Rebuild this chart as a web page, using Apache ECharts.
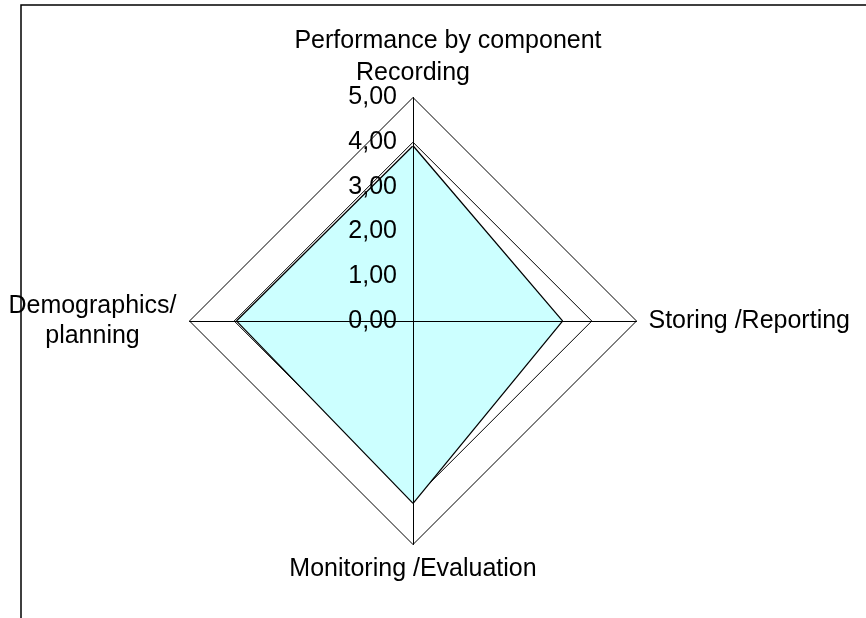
<!DOCTYPE html>
<html>
<head>
<meta charset="utf-8">
<script src="https://cdn.jsdelivr.net/npm/echarts@6/dist/echarts.min.js"></script>
<style>
  html, body { margin: 0; padding: 0; background: #fff; }
  #chart { width: 866px; height: 618px; }
</style>
</head>
<body>
<div id="chart"></div>
<script>
const titleText = 'Performance by component';
// listed in the order the radar draws them (counter-clockwise from the top)
const categories = ['Recording', 'Demographics/\nplanning', 'Monitoring /Evaluation', 'Storing /Reporting'];
const scores = [3.9, 3.93, 4.06, 3.33];
const axisMax = 5;

const font = "'Liberation Sans', Arial, sans-serif";
const fs = 25;

const chart = echarts.init(document.getElementById('chart'));

const baseRadar = {
  center: [413, 321],
  radius: 223.5,
  shape: 'polygon',
  startAngle: 90,
  splitNumber: 5,
  nameGap: 12
};

function indicators(withLabels) {
  return categories.map((name, i) => {
    const ind = { name: name, min: 0, max: axisMax };
    if (withLabels && i === 0) ind.axisLabel = { show: true };
    return ind;
  });
}

chart.setOption({
  animation: false,
  backgroundColor: '#fff',
  title: {
    text: titleText,
    left: 443,
    top: 24,
    textAlign: 'center',
    textStyle: { fontFamily: font, fontSize: fs, fontWeight: 'normal', color: '#000' }
  },
  graphic: [{
    type: 'rect',
    shape: { x: 21, y: 5, width: 900, height: 700 },
    style: { fill: 'none', stroke: '#000', lineWidth: 1.5 },
    silent: true
  }],
  radar: [
    // gridlines, under the filled series
    Object.assign({}, baseRadar, {
      z: 0,
      indicator: indicators(false),
      axisName: {
        color: '#000',
        fontFamily: font,
        fontSize: fs,
        formatter: function (name) {
          if (name.indexOf('\n') < 0) return name;
          return name.split('\n').map(s => '{c|' + s + '}').join('\n');
        },
        rich: {
          c: { width: 170, align: 'center', lineHeight: 30, fontSize: fs, fontFamily: font, color: '#000' }
        }
      },
      axisLine: { show: false },
      axisTick: { show: false },
      axisLabel: { show: false },
      splitLine: { lineStyle: { color: '#000', width: 1 } },
      splitArea: { show: false }
    }),
    // axis lines and value labels, over the series
    Object.assign({}, baseRadar, {
      z: 5,
      indicator: indicators(true),
      axisName: { show: false },
      axisLine: { lineStyle: { color: '#000', width: 1 } },
      axisTick: { show: false },
      axisLabel: {
        show: false,
        color: '#000',
        fontFamily: font,
        fontSize: fs,
        margin: 16,
        formatter: v => v.toFixed(2).replace('.', ',')
      },
      splitLine: { show: false },
      splitArea: { show: false }
    })
  ],
  series: [{
    type: 'radar',
    radarIndex: 0,
    z: 2,
    symbol: 'none',
    lineStyle: { color: '#000', width: 2.5, opacity: 1 },
    areaStyle: { color: '#CCFFFF', opacity: 1 },
    data: [{
      value: scores,
      name: 'Score',
      lineStyle: { color: '#000', width: 2.5, opacity: 1 },
      areaStyle: { color: '#CCFFFF', opacity: 1 }
    }]
  }]
});
</script>
</body>
</html>
